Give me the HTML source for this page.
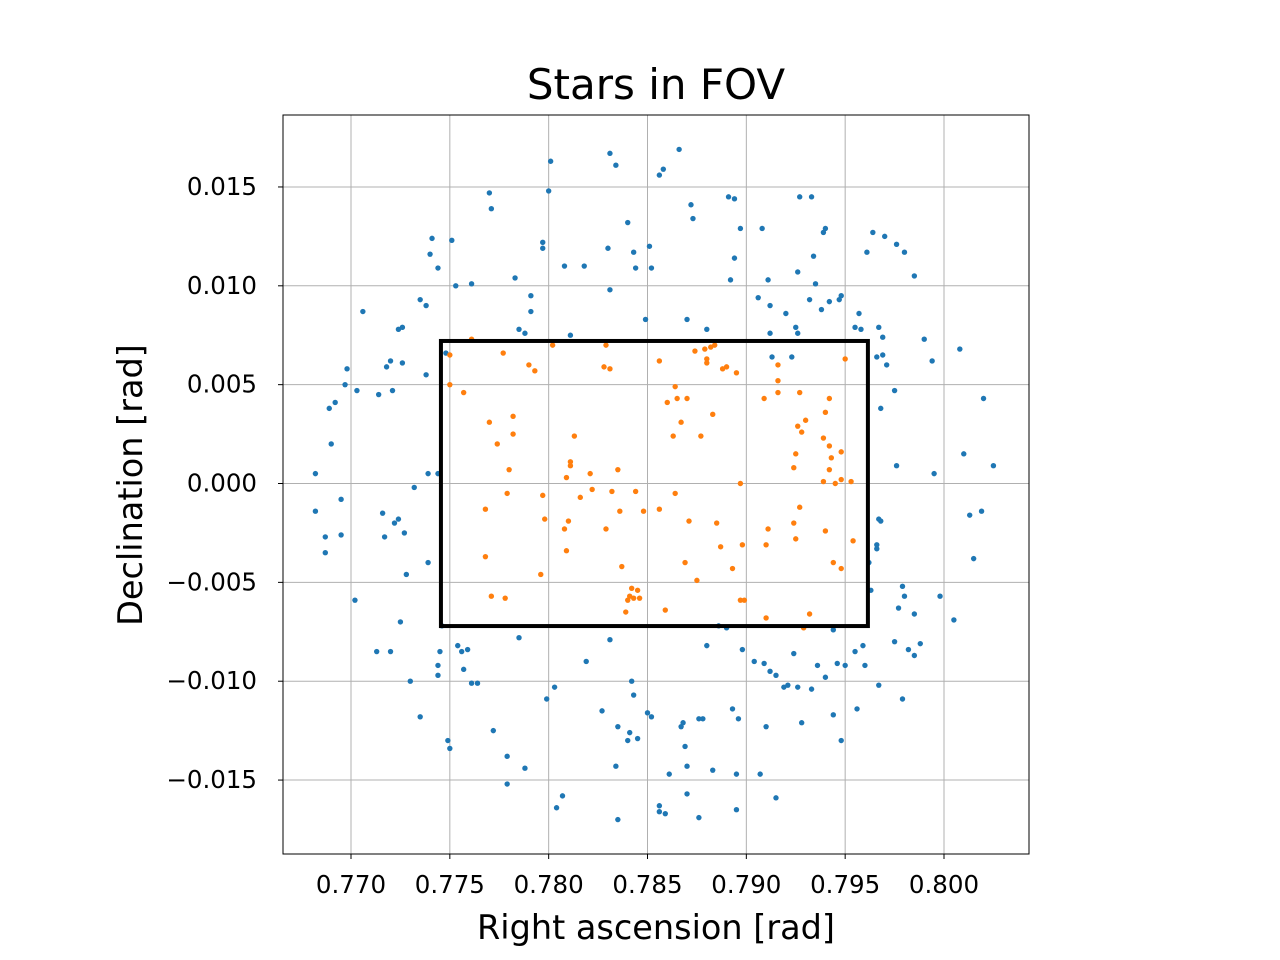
<!DOCTYPE html>
<html><head><meta charset="utf-8"><style>
body{margin:0;background:#fff;}
svg{display:block;font-family:"DejaVu Sans","Liberation Sans",sans-serif;}
</style></head><body>
<svg id="chart" width="1280" height="960" viewBox="0 0 1280 960" xmlns="http://www.w3.org/2000/svg">
<rect width="1280" height="960" fill="#fff"/>
<g id="grid"></g>
<g id="blue"></g>
<g id="orange"></g>
<g id="fov"></g>
<rect x="283" y="115" width="746" height="739" fill="none" stroke="#000" stroke-width="1"/>
<g id="ticks"></g>
<text x="656" y="99" text-anchor="middle" font-size="42">Stars in FOV</text>
<text x="656" y="939" text-anchor="middle" font-size="33.5">Right ascension [rad]</text>
<text transform="translate(142,485) rotate(-90)" text-anchor="middle" font-size="33.5">Declination [rad]</text>
</svg>
<script>
const xTicks=[0.770,0.775,0.780,0.785,0.790,0.795,0.800];
const yTicks=[0.015,0.010,0.005,0.000,-0.005,-0.010,-0.015];
const xTickLabels=["0.770","0.775","0.780","0.785","0.790","0.795","0.800"];
const yTickLabels=["0.015","0.010","0.005","0.000","\u22120.005","\u22120.010","\u22120.015"];
const fovRa=[0.77455,0.79615];
const fovDec=[-0.00721,0.00721];
const blueRa=[.7801,.7831,.7834,.7866,.7858,.7856,.7872,.7891,.7894,.7897,.7908,.7894,.7873,.7927,.7933,.7940,.7939,.7964,.7970,.7976,.7980,.7961,.7985,.7840,.7800,.7797,.7797,.7808,.7818,.7830,.7843,.7844,.7851,.7852,.7831,.7791,.7791,.7785,.7788,.7770,.7771,.7783,.7761,.7753,.7741,.7740,.7744,.7751,.7735,.7738,.7726,.7724,.7720,.7718,.7714,.7706,.7698,.7697,.7703,.7692,.7689,.7690,.7682,.7682,.7687,.7687,.7695,.7695,.7702,.7713,.7720,.7716,.7717,.7724,.7722,.7727,.7728,.7725,.7730,.7735,.7739,.7739,.7744,.7732,.7726,.7721,.7738,.7746,.7745,.7744,.7744,.7750,.7749,.7754,.7756,.7759,.7757,.7761,.7764,.7772,.7779,.7779,.7788,.7785,.7799,.7803,.7807,.7804,.7819,.7827,.7835,.7831,.7834,.7835,.7840,.7841,.7842,.7843,.7845,.7850,.7852,.7856,.7856,.7859,.7861,.7867,.7870,.7869,.7870,.7868,.7876,.7878,.7883,.7876,.7886,.7890,.7880,.7895,.7895,.7896,.7893,.7898,.7904,.7909,.7907,.7910,.7915,.7912,.7915,.7919,.7924,.7921,.7926,.7928,.7933,.7936,.7944,.7944,.7946,.7950,.7940,.7948,.7955,.7956,.7959,.7960,.7962,.7963,.7966,.7967,.7967,.7975,.7977,.7979,.7980,.7985,.7982,.7979,.7985,.7988,.7998,.8005,.8015,.8013,.8019,.8025,.8010,.7995,.8008,.7994,.7990,.8020,.7975,.7971,.7969,.7967,.7969,.7966,.7957,.7958,.7955,.7948,.7947,.7942,.7938,.7920,.7925,.7926,.7912,.7906,.7912,.7913,.7923,.7932,.7880,.7870,.7849,.7811,.7968,.7976,.7968,.7966,.7748,.7892,.7911,.7926,.7935,.7934];
const blueDec=[.0163,.0167,.0161,.0169,.0159,.0156,.0141,.0145,.0144,.0129,.0129,.0114,.0134,.0145,.0145,.0129,.0127,.0127,.0125,.0121,.0117,.0117,.0105,.0132,.0148,.0122,.0119,.0110,.0110,.0119,.0117,.0109,.0120,.0109,.0098,.0095,.0087,.0078,.0076,.0147,.0139,.0104,.0101,.0100,.0124,.0116,.0109,.0123,.0093,.0090,.0079,.0078,.0062,.0059,.0045,.0087,.0058,.0050,.0047,.0041,.0038,.0020,.0005,-.0014,-.0027,-.0035,-.0026,-.0008,-.0059,-.0085,-.0085,-.0015,-.0027,-.0018,-.0020,-.0025,-.0046,-.0070,-.0100,-.0118,-.0040,.0005,.0005,-.0002,.0061,.0047,.0055,-.0072,-.0085,-.0092,-.0097,-.0134,-.0130,-.0082,-.0085,-.0084,-.0094,-.0101,-.0101,-.0125,-.0138,-.0152,-.0144,-.0078,-.0109,-.0103,-.0158,-.0164,-.0090,-.0115,-.0123,-.0079,-.0143,-.0170,-.0130,-.0126,-.0100,-.0107,-.0129,-.0116,-.0118,-.0163,-.0166,-.0167,-.0147,-.0123,-.0143,-.0133,-.0157,-.0121,-.0119,-.0119,-.0145,-.0169,-.0072,-.0073,-.0082,-.0147,-.0165,-.0119,-.0114,-.0084,-.0090,-.0091,-.0147,-.0123,-.0159,-.0095,-.0097,-.0103,-.0086,-.0102,-.0103,-.0121,-.0104,-.0092,-.0117,-.0074,-.0091,-.0092,-.0098,-.0130,-.0085,-.0114,-.0082,-.0092,-.0040,-.0054,-.0031,-.0018,-.0102,-.0080,-.0063,-.0052,-.0057,-.0087,-.0084,-.0109,-.0066,-.0081,-.0057,-.0069,-.0038,-.0016,-.0014,.0009,.0015,.0005,.0068,.0062,.0073,.0043,.0047,.0060,.0074,.0079,.0065,.0064,.0086,.0078,.0079,.0095,.0093,.0092,.0088,.0086,.0079,.0076,.0090,.0094,.0076,.0064,.0064,.0093,.0078,.0083,.0083,.0075,.0038,.0009,-.0019,-.0033,.0066,.0103,.0103,.0107,.0101,.0115];
const orangeRa=[.7750,.7750,.7757,.7761,.7770,.7774,.7780,.7779,.7768,.7768,.7771,.7778,.7777,.7782,.7782,.7790,.7793,.7797,.7798,.7802,.7813,.7811,.7809,.7811,.7816,.7821,.7822,.7832,.7835,.7829,.7828,.7831,.7829,.7836,.7810,.7808,.7809,.7796,.7837,.7839,.7841,.7842,.7845,.7843,.7840,.7846,.7844,.7848,.7856,.7860,.7864,.7865,.7870,.7867,.7863,.7864,.7856,.7859,.7869,.7871,.7875,.7877,.7874,.7879,.7880,.7882,.7880,.7884,.7883,.7885,.7888,.7890,.7895,.7893,.7887,.7897,.7899,.7897,.7898,.7909,.7911,.7910,.7910,.7916,.7916,.7916,.7927,.7926,.7928,.7930,.7925,.7924,.7927,.7924,.7925,.7932,.7929,.7940,.7939,.7942,.7940,.7944,.7943,.7942,.7942,.7948,.7950,.7953,.7954,.7939,.7945,.7948,.7948];
const orangeDec=[.0065,.0050,.0046,.0073,.0031,.0020,.0007,-.0005,-.0013,-.0037,-.0057,-.0058,.0066,.0034,.0025,.0060,.0057,-.0006,-.0018,.0070,.0024,.0009,.0003,.0011,-.0007,.0005,-.0003,-.0004,.0007,-.0023,.0059,.0058,.0070,-.0014,-.0019,-.0023,-.0034,-.0046,-.0042,-.0065,-.0057,-.0053,-.0054,-.0058,-.0059,-.0058,-.0004,-.0014,.0062,.0041,.0049,.0043,.0043,.0031,.0024,-.0005,-.0013,-.0064,-.0040,-.0019,-.0049,.0024,.0067,.0068,.0063,.0069,.0061,.0070,.0035,-.0020,.0058,.0059,.0056,-.0043,-.0032,-.0059,-.0059,-.0000,-.0031,.0043,-.0023,-.0031,-.0068,.0060,.0052,.0046,.0046,.0029,.0026,.0032,.0015,.0008,-.0012,-.0020,-.0028,-.0066,-.0073,.0036,.0023,.0019,-.0024,-.0040,.0013,.0007,.0043,.0002,.0063,.0001,-.0029,.0001,-.0000,-.0043,.0016];

const NS="http://www.w3.org/2000/svg";
const L=283,R=1029,T=115,B=854;
const X0=0.76656,X1=0.80430,Y0=-0.01874,Y1=0.01864;
function xs(v){return L+(v-X0)/(X1-X0)*(R-L);}
function ys(v){return B-(v-Y0)/(Y1-Y0)*(B-T);}
function mk(tag,attrs,parent){const e=document.createElementNS(NS,tag);for(const k in attrs)e.setAttribute(k,attrs[k]);parent.appendChild(e);return e;}
const grid=document.getElementById('grid'),ticks=document.getElementById('ticks');
xTicks.forEach((v,i)=>{const x=xs(v);
 const g=mk('line',{x1:x,x2:x,y1:T,y2:B,stroke:'#b0b0b0','stroke-width':1},grid);
 
 
 const t=mk('line',{x1:x,x2:x,y1:B,y2:B+5,stroke:'#000','stroke-width':1},ticks);
 
 
 const l=mk('text',{x:x,y:B+39,'text-anchor':'middle','font-size':'24.5'},ticks);l.textContent=xTickLabels[i];
 
 
});
yTicks.forEach((v,i)=>{const y=ys(v);
 const g=mk('line',{x1:L,x2:R,y1:y,y2:y,stroke:'#b0b0b0','stroke-width':1},grid);
 
 
 const t=mk('line',{x1:L-5,x2:L,y1:y,y2:y,stroke:'#000','stroke-width':1},ticks);
 
 
 const l=mk('text',{x:L-26,y:y+8,'text-anchor':'end','font-size':'24.5'},ticks);l.textContent=yTickLabels[i];
 
 
});
const bg=document.getElementById('blue');
blueRa.forEach((v,i)=>{const c=mk('circle',{cx:xs(v),cy:ys(blueDec[i]),r:2.7,fill:'#1f77b4'},bg);
 
 });
const og=document.getElementById('orange');
orangeRa.forEach((v,i)=>{const c=mk('circle',{cx:xs(v),cy:ys(orangeDec[i]),r:2.7,fill:'#ff7f0e'},og);
 
 });
const fg=document.getElementById('fov');
const fr=mk('rect',{x:xs(fovRa[0]),y:ys(fovDec[1]),width:xs(fovRa[1])-xs(fovRa[0]),height:ys(fovDec[0])-ys(fovDec[1]),fill:'none',stroke:'#000','stroke-width':4},fg);


</script>
</body></html>
